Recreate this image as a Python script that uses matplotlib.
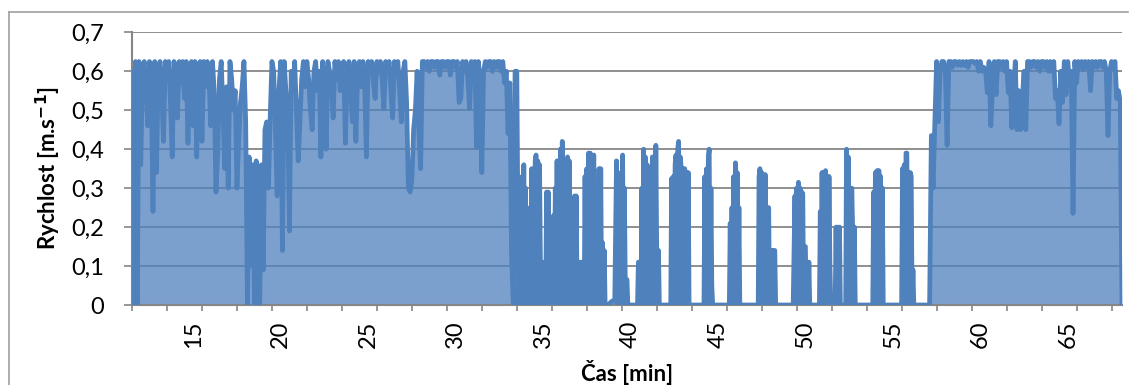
import numpy as np
import matplotlib
matplotlib.use('Agg')
import matplotlib.pyplot as plt
from matplotlib.lines import Line2D

plt.rcParams['font.family'] = ['Lato', 'DejaVu Sans']

# dense part 1: samples every 0.1 min starting at 11.5 min
start_a = 11.5
speed_a = [
    0.60, 0.0, 0.625, 0.0, 0.625, 0.36, 0.60, 0.625, 0.56, 0.46,
    0.625, 0.58, 0.24, 0.625, 0.34, 0.60, 0.625, 0.55, 0.42, 0.625,
    0.58, 0.625, 0.52, 0.38, 0.625, 0.60, 0.48, 0.625, 0.57, 0.625,
    0.53, 0.625, 0.415, 0.60, 0.625, 0.46, 0.625, 0.38, 0.61, 0.625,
    0.42, 0.625, 0.56, 0.625, 0.59, 0.46, 0.625, 0.55, 0.29, 0.39,
    0.58, 0.625, 0.50, 0.35, 0.56, 0.30, 0.625, 0.58, 0.50, 0.55,
    0.30, 0.42, 0.52, 0.56, 0.625, 0.47, 0.0, 0.38, 0.10, 0.36,
    0.0, 0.37, 0.20, 0.0, 0.36, 0.09, 0.45, 0.47, 0.30, 0.48,
    0.625, 0.60, 0.45, 0.28, 0.55, 0.625, 0.14, 0.625, 0.55, 0.50,
    0.19, 0.60, 0.55, 0.625, 0.50, 0.37, 0.47, 0.58, 0.625, 0.56,
    0.625, 0.58, 0.50, 0.45, 0.60, 0.625, 0.55, 0.60, 0.38, 0.625,
    0.57, 0.40, 0.625, 0.60, 0.56, 0.48, 0.625, 0.58, 0.625, 0.55,
    0.60, 0.625, 0.415, 0.60, 0.625, 0.55, 0.47, 0.625, 0.42, 0.60,
    0.625, 0.56, 0.625, 0.58, 0.38, 0.625, 0.60, 0.625, 0.57, 0.53,
    0.625, 0.60, 0.625, 0.58, 0.505, 0.625, 0.60, 0.625, 0.55, 0.48,
    0.625, 0.61, 0.625, 0.55, 0.47, 0.60, 0.625, 0.52, 0.30, 0.29,
    0.32, 0.45, 0.50, 0.60, 0.45, 0.35, 0.625, 0.625, 0.61, 0.625,
    0.60, 0.625, 0.625, 0.61, 0.625, 0.625, 0.59, 0.625, 0.625, 0.61,
    0.625, 0.625, 0.59, 0.625, 0.625, 0.61, 0.625, 0.52, 0.53, 0.625,
    0.60, 0.625, 0.58, 0.505, 0.625, 0.60, 0.625, 0.405, 0.625, 0.58,
    0.34, 0.60, 0.625, 0.61, 0.625, 0.625, 0.60, 0.625, 0.61, 0.625,
    0.625, 0.60, 0.625, 0.57, 0.60, 0.44, 0.57, 0.13, 0.0, 0.60,
    0.60, 0.0,
]

# sparse middle part: short bursts (time [min], speed) separated by standstill
bursts = [
    (33.7, 0.28), (33.75, 0.0), (33.8, 0.33), (33.85, 0.0), (33.9, 0.36),
    (33.95, 0.0), (34.0, 0.3), (34.05, 0.0),
    (34.2, 0.0), (34.25, 0.25), (34.3, 0.0), (34.35, 0.35), (34.4, 0.0),
    (34.45, 0.34), (34.5, 0.0), (34.55, 0.37), (34.6, 0.385), (34.65, 0.0),
    (34.7, 0.37), (34.75, 0.0), (34.8, 0.36), (34.85, 0.11), (34.9, 0.0),
    (34.95, 0.11), (35.0, 0.0),
    (35.15, 0.0), (35.2, 0.29), (35.25, 0.0), (35.3, 0.29), (35.35, 0.0),
    (35.55, 0.0), (35.6, 0.23), (35.65, 0.0), (35.7, 0.30), (35.75, 0.0),
    (35.8, 0.37), (35.85, 0.0), (35.9, 0.37), (35.95, 0.0), (36.0, 0.40),
    (36.05, 0.0), (36.1, 0.42), (36.15, 0.0), (36.2, 0.37), (36.25, 0.0),
    (36.3, 0.36), (36.35, 0.0), (36.4, 0.38), (36.45, 0.0), (36.5, 0.37),
    (36.55, 0.0), (36.6, 0.15), (36.65, 0.0), (36.7, 0.11), (36.75, 0.0),
    (36.8, 0.28), (36.85, 0.0), (36.9, 0.28), (36.95, 0.0), (37.0, 0.11),
    (37.05, 0.0), (37.1, 0.11), (37.15, 0.0), (37.2, 0.11), (37.25, 0.0),
    (37.3, 0.11), (37.35, 0.0), (37.4, 0.33), (37.45, 0.0), (37.5, 0.35),
    (37.55, 0.0), (37.6, 0.39), (37.65, 0.0), (37.7, 0.39), (37.75, 0.0),
    (37.8, 0.38), (37.85, 0.0), (37.9, 0.385), (37.95, 0.0), (38.0, 0.30),
    (38.05, 0.0), (38.1, 0.30), (38.15, 0.0), (38.2, 0.35), (38.25, 0.0),
    (38.3, 0.35), (38.35, 0.0), (38.4, 0.16), (38.45, 0.0), (38.5, 0.14),
    (38.55, 0.0),
    (38.7, 0.0), (38.95, 0.01), (39.1, 0.01), (39.15, 0.2), (39.2, 0.37),
    (39.25, 0.0), (39.3, 0.30), (39.35, 0.0), (39.4, 0.2), (39.45, 0.34),
    (39.5, 0.0), (39.55, 0.385), (39.6, 0.0), (39.65, 0.3), (39.7, 0.065),
    (39.8, 0.065), (39.85, 0.0),
    (40.4, 0.0), (40.45, 0.11), (40.5, 0.0), (40.55, 0.11), (40.6, 0.0),
    (40.65, 0.30), (40.7, 0.0), (40.75, 0.40), (40.8, 0.0), (40.85, 0.38),
    (40.9, 0.0), (40.95, 0.36), (41.0, 0.0), (41.05, 0.33), (41.1, 0.0),
    (41.15, 0.32), (41.2, 0.0), (41.25, 0.38), (41.3, 0.0), (41.35, 0.38),
    (41.4, 0.0), (41.45, 0.41), (41.5, 0.14), (41.55, 0.0), (41.6, 0.14),
    (41.65, 0.0),
    (42.3, 0.0), (42.35, 0.325), (42.4, 0.0), (42.45, 0.33), (42.5, 0.0),
    (42.55, 0.36), (42.6, 0.385), (42.65, 0.0), (42.7, 0.40), (42.75, 0.42),
    (42.8, 0.0), (42.85, 0.38), (42.9, 0.35), (42.95, 0.0), (43.0, 0.35),
    (43.05, 0.0), (43.1, 0.35), (43.15, 0.0), (43.2, 0.34), (43.25, 0.0),
    (43.3, 0.34), (43.35, 0.0),
    (44.2, 0.0), (44.25, 0.33), (44.3, 0.0), (44.35, 0.35), (44.4, 0.0),
    (44.45, 0.38), (44.5, 0.40), (44.55, 0.0), (44.6, 0.3), (44.65, 0.05),
    (44.7, 0.0),
    (45.65, 0.0), (45.7, 0.21), (45.75, 0.0), (45.8, 0.25), (45.85, 0.0),
    (45.9, 0.33), (45.95, 0.0), (46.0, 0.365), (46.05, 0.0), (46.1, 0.34),
    (46.15, 0.0), (46.2, 0.25), (46.25, 0.0),
    (47.3, 0.0), (47.35, 0.33), (47.4, 0.35), (47.45, 0.0), (47.5, 0.34),
    (47.55, 0.0), (47.6, 0.33), (47.65, 0.0), (47.7, 0.335), (47.75, 0.0),
    (47.8, 0.25), (47.85, 0.0), (47.9, 0.25), (47.95, 0.0), (48.0, 0.14),
    (48.05, 0.0), (48.1, 0.14), (48.15, 0.0), (48.2, 0.14), (48.25, 0.14),
    (48.3, 0.0),
    (49.3, 0.0), (49.35, 0.14), (49.4, 0.28), (49.45, 0.0), (49.5, 0.30),
    (49.55, 0.0), (49.6, 0.315), (49.65, 0.0), (49.7, 0.30), (49.75, 0.0),
    (49.8, 0.29), (49.85, 0.285), (49.9, 0.0), (49.95, 0.15), (50.0, 0.15),
    (50.05, 0.0), (50.1, 0.11), (50.15, 0.0), (50.2, 0.11), (50.25, 0.0),
    (50.8, 0.0), (50.85, 0.24), (50.9, 0.0), (50.95, 0.34), (51.0, 0.0),
    (51.05, 0.34), (51.1, 0.0), (51.15, 0.345), (51.2, 0.0), (51.25, 0.33),
    (51.3, 0.0), (51.35, 0.33), (51.4, 0.11), (51.45, 0.0),
    (51.7, 0.0), (51.75, 0.20), (51.8, 0.0), (51.85, 0.20), (51.9, 0.0),
    (51.95, 0.20), (52.0, 0.0),
    (52.3, 0.0), (52.35, 0.40), (52.4, 0.0), (52.45, 0.38), (52.5, 0.0),
    (52.55, 0.30), (52.6, 0.0), (52.65, 0.30), (52.7, 0.2), (52.75, 0.0),
    (52.8, 0.2), (52.85, 0.0),
    (53.85, 0.0), (53.9, 0.29), (53.95, 0.0), (54.0, 0.34), (54.05, 0.0),
    (54.1, 0.345), (54.15, 0.0), (54.2, 0.345), (54.25, 0.0), (54.3, 0.33),
    (54.35, 0.0), (54.4, 0.30), (54.45, 0.0),
    (55.5, 0.0), (55.55, 0.35), (55.6, 0.0), (55.65, 0.36), (55.7, 0.0),
    (55.75, 0.39), (55.8, 0.39), (55.85, 0.0), (55.9, 0.34), (55.95, 0.0),
    (56.0, 0.34), (56.05, 0.33), (56.1, 0.0), (56.15, 0.09), (56.2, 0.0),
    (57.1, 0.0),
]

# dense part 2: samples every 0.1 min starting at 57.2 min
start_c = 57.2
speed_c = [
    0.435, 0.30, 0.47, 0.625, 0.47, 0.60, 0.625, 0.625, 0.60, 0.41,
    0.625, 0.625, 0.61, 0.625, 0.625, 0.615, 0.625, 0.615, 0.625, 0.615,
    0.625, 0.61, 0.625, 0.625, 0.625, 0.62, 0.625, 0.60, 0.625, 0.60,
    0.61, 0.60, 0.545, 0.625, 0.46, 0.56, 0.625, 0.54, 0.625, 0.625,
    0.61, 0.625, 0.60, 0.625, 0.545, 0.60, 0.455, 0.56, 0.625, 0.45,
    0.55, 0.45, 0.53, 0.60, 0.45, 0.625, 0.625, 0.61, 0.625, 0.625,
    0.61, 0.625, 0.60, 0.625, 0.625, 0.61, 0.625, 0.60, 0.625, 0.60,
    0.625, 0.53, 0.55, 0.465, 0.60, 0.52, 0.625, 0.54, 0.625, 0.57,
    0.60, 0.235, 0.625, 0.57, 0.625, 0.61, 0.625, 0.605, 0.625, 0.61,
    0.625, 0.55, 0.625, 0.61, 0.625, 0.61, 0.625, 0.625, 0.61, 0.625,
    0.60, 0.435, 0.60, 0.625, 0.61, 0.625, 0.53, 0.55, 0.52, 0.0,
]

y_ticks = [0, 0.1, 0.2, 0.3, 0.4, 0.5, 0.6, 0.7]
y_labels = ['0', '0,1', '0,2', '0,3', '0,4', '0,5', '0,6', '0,7']
x_labels = [15, 20, 25, 30, 35, 40, 45, 50, 55, 60, 65]

time_a = start_a + 0.1 * np.arange(len(speed_a))
time_c = start_c + 0.1 * np.arange(len(speed_c))
time_b = [p[0] for p in bursts]
speed_b = [p[1] for p in bursts]
t = np.concatenate([time_a, time_b, time_c])
v = np.concatenate([speed_a, speed_b, speed_c])

blue = '#4F81BD'
grey = '#868686'

fig = plt.figure(figsize=(11.31, 3.85), dpi=100)
ax = fig.add_axes([132 / 1131, 80 / 385, 990 / 1131, 272.7 / 385])

ax.fill_between(t, v, 0, color=blue, alpha=0.75, lw=0, zorder=2)
ax.plot(t, v, color=blue, lw=3.4, solid_joinstyle='round',
        solid_capstyle='round', zorder=3)

ax.set_xlim(11.5, 68.1)
ax.set_ylim(0, 0.7)

ax.set_yticks(y_ticks)
ax.set_yticklabels(y_labels, fontsize=17)
ax.yaxis.grid(True, color=grey, lw=1.3, zorder=1)
ax.set_axisbelow(True)

ax.set_xticks(np.arange(11.5, 68.2, 2.0))
ax.set_xticklabels([])
ax.set_xticks(x_labels, minor=True)
ax.set_xticklabels([str(x) for x in x_labels], minor=True, rotation=90,
                   fontsize=17)
ax.tick_params(axis='x', which='minor', length=0, pad=11)
ax.tick_params(axis='x', which='major', length=4, width=1.2, color=grey)
ax.tick_params(axis='y', which='major', length=6, width=1.2, color=grey,
               pad=14)

for s in ['top', 'right']:
    ax.spines[s].set_visible(False)
for s in ['left', 'bottom']:
    ax.spines[s].set_color(grey)
    ax.spines[s].set_linewidth(1.5)

ax.set_ylabel('Rychlost [m.s$^{\\mathbf{-1}}$]', fontsize=16,
              fontweight='bold', labelpad=6)
ax.set_xlabel('Čas [min]', fontsize=16, fontweight='bold', labelpad=9)

# chart area border
fig.add_artist(Line2D([9 / 1131, 9 / 1131], [0, 1 - 12 / 385],
                      transform=fig.transFigure, color='#a0a0a0', lw=1.2))
fig.add_artist(Line2D([9 / 1131, 1128 / 1131], [1 - 12 / 385, 1 - 12 / 385],
                      transform=fig.transFigure, color='#a0a0a0', lw=1.2))

fig.savefig('out.png', dpi=100)
